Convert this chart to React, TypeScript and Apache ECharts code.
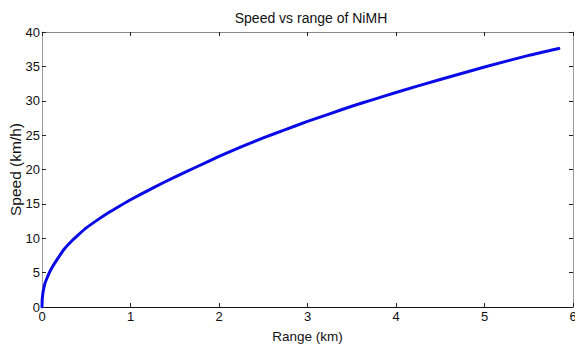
import React, { useEffect, useRef } from "react";
import * as echarts from "echarts";

const rangeKm = [0, 0.003, 0.01, 0.02, 0.035, 0.05, 0.083, 0.12, 0.17, 0.25, 0.336, 0.42, 0.5, 0.62, 0.75, 0.88, 1.0, 1.25, 1.5, 1.75, 2.0, 2.25, 2.5, 2.75, 3.0, 3.25, 3.5, 3.75, 4.0, 4.5, 5.0, 5.5, 5.84];
const speedKmh = [0, 1.2, 2.0, 2.7, 3.5, 4.0, 5.0, 5.9, 6.9, 8.4, 9.6, 10.6, 11.5, 12.6, 13.7, 14.7, 15.6, 17.3, 18.9, 20.4, 21.9, 23.3, 24.6, 25.8, 27.0, 28.1, 29.2, 30.2, 31.2, 33.1, 34.9, 36.6, 37.6];
const titleText = "Speed vs range of NiMH";
const xName = "Range (km)";
const yName = "Speed (km/h)";

export default function App() {
  const ref = useRef<HTMLDivElement>(null);
  useEffect(() => {
    if (!ref.current) return;
    const chart = echarts.init(ref.current, undefined, { renderer: "svg" });
    const font = "'Liberation Sans', Arial, sans-serif";
    const data = rangeKm.map((x, i) => [x, speedKmh[i]]);
    const tickStyle = { show: true, inside: true, length: 4, lineStyle: { color: "#222", width: 1 } };
    chart.setOption({
      animation: false,
      backgroundColor: "#ffffff",
      title: {
        text: titleText,
        left: 306,
        top: 6,
        textAlign: "center",
        textStyle: { fontFamily: font, fontSize: 14, fontWeight: "normal", color: "#111" },
      },
      grid: { left: 42, right: 2, top: 32, bottom: 42, show: false, containLabel: false, outerBoundsMode: "none" },
      xAxis: [
        {
          type: "value",
          min: 0,
          max: 6,
          interval: 1,
          position: "bottom",
          name: xName,
          nameLocation: "middle",
          nameGap: 22,
          nameMoveOverlap: false,
          nameTextStyle: { fontFamily: font, fontSize: 13.5, color: "#111" },
          axisLine: { show: true, lineStyle: { color: "#111", width: 1 } },
          axisTick: tickStyle,
          axisLabel: { fontFamily: font, fontSize: 13, color: "#111", margin: 3, hideOverlap: false },
          splitLine: { show: false },
        },
        {
          type: "value",
          min: 0,
          max: 6,
          interval: 1,
          position: "top",
          axisLine: { show: true, onZero: false, lineStyle: { color: "#888", width: 1 } },
          axisTick: tickStyle,
          axisLabel: { show: false },
          splitLine: { show: false },
        },
      ],
      yAxis: [
        {
          type: "value",
          min: 0,
          max: 40,
          interval: 5,
          position: "left",
          name: yName,
          nameLocation: "middle",
          nameGap: 19,
          nameMoveOverlap: false,
          nameRotate: 90,
          nameTextStyle: { fontFamily: font, fontSize: 15.5, color: "#111" },
          axisLine: { show: true, lineStyle: { color: "#999", width: 1 } },
          axisTick: tickStyle,
          axisLabel: { fontFamily: font, fontSize: 13, color: "#111", margin: 2, hideOverlap: false },
          splitLine: { show: false },
        },
        {
          type: "value",
          min: 0,
          max: 40,
          interval: 5,
          position: "right",
          axisLine: { show: true, onZero: false, lineStyle: { color: "#999", width: 1 } },
          axisTick: tickStyle,
          axisLabel: { show: false },
          splitLine: { show: false },
        },
      ],
      series: [
        {
          type: "line",
          data,
          showSymbol: false,
          smooth: 0.2,
          lineStyle: { color: "#0a0ae6", width: 3, join: "round", cap: "round" },
          z: 5,
        },
      ],
    });
    return () => chart.dispose();
  }, []);
  return (
    <div
      ref={ref}
      style={{ position: "fixed", left: 0, top: 0, width: 575, height: 349, background: "#fff" }}
    />
  );
}
